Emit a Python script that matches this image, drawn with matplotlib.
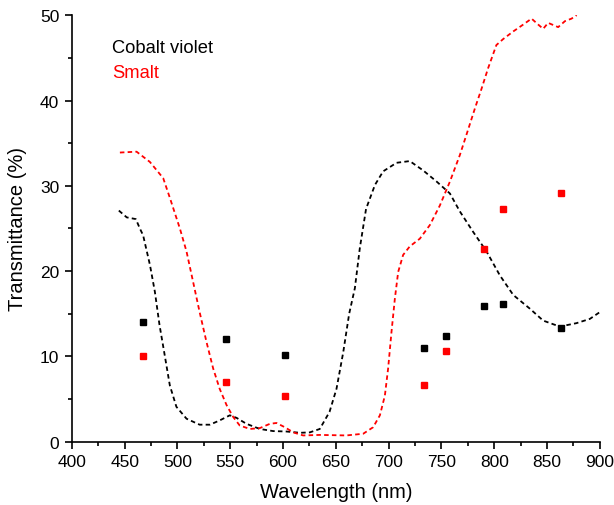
import matplotlib
matplotlib.use('Agg')
import matplotlib.pyplot as plt
from matplotlib.ticker import MultipleLocator

plt.rcParams['font.family'] = ['Liberation Sans', 'DejaVu Sans']

# Cobalt violet spectrum (black dashed)
cv_wl = [444.5, 452, 460.6, 464.4, 467.5, 474, 478.6, 483, 488, 492.8, 499, 508.6, 521,
         530.7, 540, 549.6, 556, 565.4, 578, 590.6, 603.3, 616, 625.4, 634.8, 644, 650.6,
         657, 662.6, 668, 672.7, 678.6, 687, 694.8, 707.5, 720, 732.7, 745.4, 758, 767.4,
         780, 792.7, 805.3, 818, 833.7, 846.3, 862, 877.8, 890.5, 900]
cv_t = [27.1, 26.3, 26.1, 25.0, 24.2, 20.7, 17.6, 13.7, 10.1, 6.6, 4.1, 2.7, 2.0,
        2.0, 2.5, 3.1, 2.8, 2.1, 1.5, 1.25, 1.2, 1.05, 1.1, 1.5, 3.5, 6.2,
        10.5, 15.0, 18.0, 22.7, 27.3, 30.1, 31.7, 32.7, 32.9, 31.8, 30.5, 29.1, 27.0,
        24.6, 22.3, 19.5, 17.2, 15.6, 14.2, 13.5, 13.9, 14.4, 15.2]

# Smalt spectrum (red dashed)
sm_wl = [445.5, 461.3, 473.9, 486.5, 492.8, 502.3, 508.6, 514.9, 521, 527.5, 533.8, 540,
         546.5, 552.8, 559, 568.6, 578, 587.5, 593.8, 601.7, 609.6, 619, 634.8, 660,
         675.9, 685.3, 691.7, 696.4, 699.5, 702.7, 705.9, 709, 713.7, 720, 729.5, 739,
         748.5, 758, 767.4, 775, 782, 788, 794.2, 802, 808.4, 818, 827.4, 835.3, 841.6,
         846.3, 851, 860.5, 866.9, 873.2, 878]
sm_t = [33.9, 34.0, 32.8, 30.9, 28.6, 25.0, 22.3, 18.7, 15.2, 11.7, 8.6, 6.2,
        4.3, 2.9, 1.9, 1.5, 1.6, 2.1, 2.2, 1.7, 1.1, 0.74, 0.8, 0.74,
        0.94, 1.7, 3.1, 5.4, 8.6, 12.9, 16.8, 19.9, 21.9, 22.9, 23.8, 25.4,
        27.7, 30.5, 33.6, 36.5, 39.2, 41.4, 43.8, 46.5, 47.2, 48.1, 48.9, 49.6, 48.9,
        48.4, 49.1, 48.6, 49.3, 49.6, 50.0]

# measured points
pt_wl = [467.5, 545.8, 601.4, 733.3, 754.2, 790.5, 808.4, 863]
cv_pts = [14.0, 12.0, 10.2, 11.0, 12.4, 15.9, 16.2, 13.3]
sm_pts = [10.0, 7.0, 5.4, 6.65, 10.6, 22.6, 27.3, 29.1]

fig = plt.figure(figsize=(6.14, 5.06), dpi=100)
ax = fig.add_axes([0.117, 0.125, 0.86, 0.843])

ax.plot(cv_wl, cv_t, color='black', lw=1.3, linestyle=(0, (2.5, 1.8)))
ax.plot(sm_wl, sm_t, color='#ff0000', lw=1.3, linestyle=(0, (2.5, 1.8)))
ax.plot(pt_wl, cv_pts, 's', color='black', markersize=4.5, linestyle='none')
ax.plot(pt_wl, sm_pts, 's', color='#ff0000', markersize=4.5, linestyle='none')

ax.set_xlim(400, 900)
ax.set_ylim(0, 50)
ax.xaxis.set_major_locator(MultipleLocator(50))
ax.xaxis.set_minor_locator(MultipleLocator(25))
ax.yaxis.set_major_locator(MultipleLocator(10))
ax.yaxis.set_minor_locator(MultipleLocator(5))
for s in ['top', 'right']:
    ax.spines[s].set_visible(False)
for s in ['left', 'bottom']:
    ax.spines[s].set_linewidth(1.2)
ax.tick_params(which='major', direction='out', length=5, width=1.2, labelsize=12.5, pad=4)
ax.tick_params(which='minor', direction='out', length=3, width=1.2)

ax.set_xlabel('Wavelength (nm)', fontsize=14.5, labelpad=9)
ax.set_ylabel('Transmittance (%)', fontsize=14.5, labelpad=9)

ax.text(0.076, 0.925, 'Cobalt violet', color='black', fontsize=13.2,
        transform=ax.transAxes, va='center')
ax.text(0.076, 0.866, 'Smalt', color='#ff0000', fontsize=13.2,
        transform=ax.transAxes, va='center')

fig.savefig('out.png', dpi=100)
